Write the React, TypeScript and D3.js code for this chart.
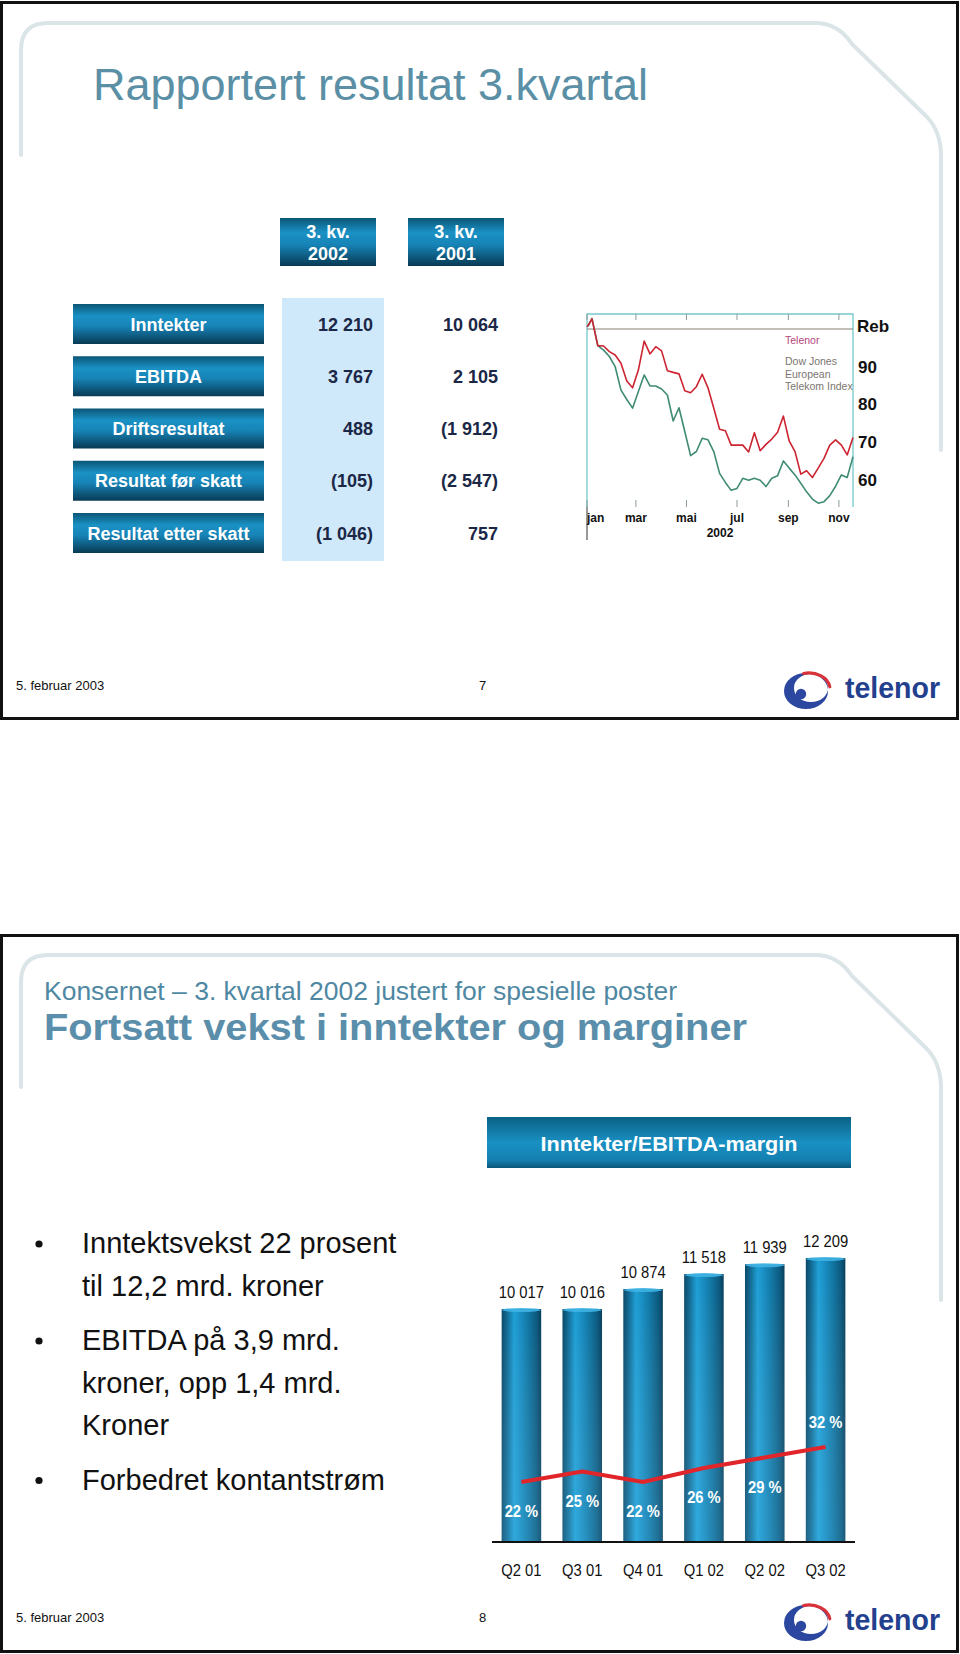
import React from "react";
import * as d3 from "d3";

// ---------- Slide 1 data ----------
const rowLabels = ["Inntekter", "EBITDA", "Driftsresultat", "Resultat før skatt", "Resultat etter skatt"];
const colHeaders = [["3. kv.", "2002"], ["3. kv.", "2001"]];
const q3y2002 = [12210, 3767, 488, -105, -1046];
const q3y2001 = [10064, 2105, -1912, -2547, 757];

const monthNames = ["jan", "feb", "mar", "apr", "mai", "jun", "jul", "aug", "sep", "okt", "nov", "des"];
const yTicks = [90, 80, 70, 60];
const telenorIdx = [100.6, 101.2,
  102.7, 95.6, 95.5, 94.0, 93.1, 90.9, 86.2, 84.4, 89.1, 96.8, 93.4, 95.3, 94.2, 88.9, 88.5, 88.1, 83.6, 83.1, 84.7, 88.0,
  84.4, 79.0, 73.4, 73.0, 69.2, 69.2, 69.2, 67.4, 72.5, 67.7, 69.4, 70.8, 72.6, 76.9, 70.3, 67.5, 61.5, 62.4, 60.6, 63.1,
  65.7, 69.2, 70.6, 69.2, 66.6, 71.2];
const djIdx = [100.6, 101.0,
  102.8, 95.6, 94.4, 92.7, 90.0, 83.8, 81.3, 79.0, 83.4, 87.8, 84.9, 84.9, 84.1, 82.5, 75.6, 79.1, 72.8, 66.4, 67.5, 71.0,
  70.6, 67.5, 61.7, 59.3, 57.2, 57.7, 60.4, 59.9, 60.4, 59.9, 58.2, 60.4, 61.1, 65.0, 63.1, 61.3, 59.1, 56.8, 54.9, 53.8,
  54.2, 55.8, 58.3, 61.3, 60.6, 66.1];
const seriesDates = [new Date(2002, 0, 1), new Date(2002, 0, 3),
  ...d3.range(46).map((k) => d3.timeDay.offset(new Date(2002, 0, 7), 7 * k))];
const legendTelenor = "Telenor";
const legendDJ = ["Dow Jones", "European", "Telekom Index"];

// ---------- Slide 2 data ----------
const quarters = ["Q2 01", "Q3 01", "Q4 01", "Q1 02", "Q2 02", "Q3 02"];
const revenue = [10017, 10016, 10874, 11518, 11939, 12209];
const ebitdaMargin = [22, 25, 22, 26, 29, 32];
const bullets = [
  ["Inntektsvekst 22 prosent", "til 12,2 mrd. kroner"],
  ["EBITDA på 3,9 mrd.", "kroner, opp 1,4 mrd.", "Kroner"],
  ["Forbedret kontantstrøm"],
];

const FONT = "'Liberation Sans', Arial, Helvetica, sans-serif";
const no = d3.formatLocale({ decimal: ",", thousands: " ", grouping: [3], currency: ["", " kr"] });
const fmtNum = no.format(",d");
const fmtParen = (v: number) => (v < 0 ? `(${fmtNum(-v)})` : fmtNum(v));

function Deco({ dy, bottom }: { dy: number; bottom: number }) {
  const d = `M21,${155 + dy} V${50 + dy} Q21,${23 + dy} 48,${23 + dy} H815 Q838,${23 + dy} 852,${44 + dy} L927,${117 + dy} Q941,${132 + dy} 941,${156 + dy} V${bottom}`;
  return <path d={d} fill="none" stroke="#dbe4e7" strokeWidth={4} strokeLinecap="round" />;
}

function Logo({ dy }: { dy: number }) {
  const cx = 806, cy = 691 + dy;
  const crescent =
    `M${cx - 22},${cy} a22,18 0 1,0 44,0 a22,18 0 1,0 -44,0 Z ` +
    `M${cx - 12},${cy - 3} a17,14 0 1,0 34,0 a17,14 0 1,0 -34,0 Z`;
  const r1x = 21, r1y = 16, rc = { x: cx + 3, y: cy - 2 };
  const a0 = (-105 * Math.PI) / 180, a1 = (-8 * Math.PI) / 180;
  const arc = `M${rc.x + r1x * Math.cos(a0)},${rc.y + r1y * Math.sin(a0)} A${r1x},${r1y} 0 0,1 ${rc.x + r1x * Math.cos(a1)},${rc.y + r1y * Math.sin(a1)}`;
  return (
    <g>
      <path d={crescent} fill="#2b47a0" fillRule="evenodd" />
      <path d={arc} fill="none" stroke="#d8333a" strokeWidth={3.2} strokeLinecap="round" />
      <circle cx={cx - 5} cy={cy + 3} r={5.2} fill="#2b47a0" />
      <text x={845} y={698 + dy} fontFamily={FONT} fontWeight="bold" fontSize={29} fill="#23408e" textLength={95} lengthAdjust="spacingAndGlyphs">telenor</text>
    </g>
  );
}

function Footer({ dy, page }: { dy: number; page: string }) {
  return (
    <g fontFamily={FONT} fontSize={13} fill="#111">
      <text x={16} y={690 + dy}>5. februar 2003</text>
      <text x={479} y={690 + dy}>{page}</text>
      <Logo dy={dy} />
    </g>
  );
}

export default function App() {
  // Table layout
  const rowY = d3.scalePoint<string>().domain(rowLabels).range([324, 533]);
  const colX = [376, 504];

  // Line chart scales
  const x = d3.scaleTime().domain([new Date(2002, 0, 1), new Date(2002, 10, 18)]).range([587, 853]);
  const y = d3.scaleLinear().domain([60, 100]).range([479.8, 329]);
  const line = d3.line<number>().x((_, i) => x(seriesDates[i])).y((v) => y(v));
  const monthTicks = x.ticks(d3.timeMonth.every(2) as d3.TimeInterval);

  // Bar chart scales
  const bx = d3.scaleBand<string>().domain(quarters).range([491, 856]).paddingInner(0.35).paddingOuter(0.175);
  const by = d3.scaleLinear().domain([0, 12209]).range([1542, 1258]);
  const my = d3.scaleLinear().domain([22, 32]).range([1482, 1447]);
  const marginLine = d3.line<number>().x((_, i) => (bx(quarters[i]) as number) + bx.bandwidth() / 2).y((m) => my(m));

  // bullets layout
  let cursor = 1253;
  const bulletLines: { text: string; y: number; first: boolean }[] = [];
  bullets.forEach((b, bi) => {
    if (bi > 0) cursor += 54.5;
    b.forEach((t, li) => {
      if (li > 0) cursor += 42.5;
      bulletLines.push({ text: t, y: cursor, first: li === 0 });
    });
  });

  return (
    <svg width={960} height={1654} style={{ position: "absolute", left: 0, top: 0, background: "#fff" }} fontFamily={FONT}>
      <defs>
        <linearGradient id="boxGrad" x1="0" y1="0" x2="0" y2="1">
          <stop offset="0" stopColor="#0b5676" />
          <stop offset="0.3" stopColor="#1a91c4" />
          <stop offset="0.55" stopColor="#1784b7" />
          <stop offset="1" stopColor="#083a54" />
        </linearGradient>
        <linearGradient id="bannerGrad" x1="0" y1="0" x2="0" y2="1">
          <stop offset="0" stopColor="#0c6185" />
          <stop offset="0.5" stopColor="#1990c3" />
          <stop offset="0.85" stopColor="#147fb0" />
          <stop offset="1" stopColor="#0b5777" />
        </linearGradient>
        <linearGradient id="barGrad" x1="0" y1="0" x2="1" y2="0">
          <stop offset="0" stopColor="#0a4868" />
          <stop offset="0.14" stopColor="#116b95" />
          <stop offset="0.32" stopColor="#1e9fd5" />
          <stop offset="0.45" stopColor="#1990c6" />
          <stop offset="0.65" stopColor="#1179a7" />
          <stop offset="0.88" stopColor="#0b5a80" />
          <stop offset="1" stopColor="#083e5b" />
        </linearGradient>
        <linearGradient id="barShade" x1="0" y1="0" x2="0" y2="1">
          <stop offset="0" stopColor="#ffffff" stopOpacity="0" />
          <stop offset="1" stopColor="#7fd8ff" stopOpacity="0.18" />
        </linearGradient>
      </defs>

      {/* ================= Slide 1 ================= */}
      <rect x={1.5} y={2.5} width={956} height={716} fill="#fff" stroke="#111" strokeWidth={3} />
      <Deco dy={0} bottom={450} />
      <text x={93} y={100} fontSize={45} fill="#5a8fa5" textLength={555} lengthAdjust="spacingAndGlyphs">Rapportert resultat 3.kvartal</text>

      {/* light column */}
      <rect x={282} y={298} width={102} height={263} fill="#cfe8fa" />

      {/* column headers */}
      {colHeaders.map((h, i) => (
        <g key={i}>
          <rect x={colX[i] - 96} y={218} width={96} height={48} fill="url(#boxGrad)" />
          <text x={colX[i] - 48} y={238} textAnchor="middle" fontSize={18} fontWeight="bold" fill="#fff">{h[0]}</text>
          <text x={colX[i] - 48} y={260} textAnchor="middle" fontSize={18} fontWeight="bold" fill="#fff">{h[1]}</text>
        </g>
      ))}

      {/* rows */}
      {rowLabels.map((r, i) => {
        const cy = rowY(r) as number;
        return (
          <g key={r}>
            <rect x={73} y={cy - 20} width={191} height={40} fill="url(#boxGrad)" />
            <text x={168.5} y={cy + 6.5} textAnchor="middle" fontSize={18} fontWeight="bold" fill="#fff">{r}</text>
            <text x={373} y={cy + 6.5} textAnchor="end" fontSize={18} fontWeight="bold" fill="#1b2746">{fmtParen(q3y2002[i])}</text>
            <text x={498} y={cy + 6.5} textAnchor="end" fontSize={18} fontWeight="bold" fill="#1b2746">{fmtParen(q3y2001[i])}</text>
          </g>
        );
      })}

      {/* line chart */}
      <g>
        <path d={`M587,507 V314 H853 V507`} fill="none" stroke="#74c9cc" strokeWidth={1.3} />
        <line x1={587} x2={587} y1={507} y2={540} stroke="#555" strokeWidth={1.2} />
        {monthTicks.map((t, i) => (
          <g key={i}>
            <line x1={x(t)} x2={x(t)} y1={314} y2={320} stroke="#8a9a9c" strokeWidth={1} />
            <line x1={x(t)} x2={x(t)} y1={500} y2={507} stroke="#8a9a9c" strokeWidth={1} />
            <text x={x(t)} y={522} textAnchor={i === 0 ? "start" : "middle"} fontSize={12} fontWeight="bold" fill="#111">
              {monthNames[t.getMonth()]}
            </text>
          </g>
        ))}
        <text x={720} y={537} textAnchor="middle" fontSize={12} fontWeight="bold" fill="#111">2002</text>
        <line x1={587} x2={853} y1={y(100)} y2={y(100)} stroke="#8c8075" strokeWidth={1.2} />
        <path d={line(djIdx) || ""} fill="none" stroke="#3f8b73" strokeWidth={1.6} strokeLinejoin="round" />
        <path d={line(telenorIdx) || ""} fill="none" stroke="#cc2431" strokeWidth={1.6} strokeLinejoin="round" />
        <text x={857} y={y(100) + 3} fontSize={17} fontWeight="bold" fill="#111">Reb</text>
        {yTicks.map((v) => (
          <text key={v} x={858} y={y(v) + 6} fontSize={17} fontWeight="bold" fill="#111">{v}</text>
        ))}
        <text x={785} y={344} fontSize={10.5} fill="#b5467c">{legendTelenor}</text>
        {legendDJ.map((t, i) => (
          <text key={t} x={785} y={365 + i * 12.5} fontSize={10.5} fill="#7b7670">{t}</text>
        ))}
      </g>

      <Footer dy={0} page="7" />

      {/* ================= Slide 2 ================= */}
      <rect x={1.5} y={935.5} width={956} height={716} fill="#fff" stroke="#111" strokeWidth={3} />
      <Deco dy={932} bottom={1300} />
      <text x={44} y={1000} fontSize={26} fill="#4f88a2" textLength={633} lengthAdjust="spacingAndGlyphs">Konsernet – 3. kvartal 2002 justert for spesielle poster</text>
      <text x={44} y={1040} fontSize={36} fontWeight="bold" fill="#5a8eaa" textLength={703} lengthAdjust="spacingAndGlyphs">Fortsatt vekst i inntekter og marginer</text>

      <rect x={487} y={1117} width={364} height={51} fill="url(#bannerGrad)" />
      <text x={669} y={1151} textAnchor="middle" fontSize={20} fontWeight="bold" fill="#fff" textLength={257} lengthAdjust="spacingAndGlyphs">Inntekter/EBITDA-margin</text>

      {bulletLines.map((l, i) => (
        <g key={i}>
          {l.first && <circle cx={39} cy={l.y - 9} r={3.6} fill="#111" />}
          <text x={82} y={l.y} fontSize={29} fill="#111">{l.text}</text>
        </g>
      ))}

      {/* bars */}
      {quarters.map((q, i) => {
        const x0 = bx(q) as number;
        const w = bx.bandwidth();
        const top = by(revenue[i]);
        return (
          <g key={q}>
            <rect x={x0} y={top} width={w} height={by(0) - top} fill="url(#barGrad)" />
            <rect x={x0} y={top} width={w} height={by(0) - top} fill="url(#barShade)" />
            <ellipse cx={x0 + w / 2} cy={top + 1} rx={w / 2 - 0.5} ry={2} fill="#3fb3e3" opacity={0.9} />
            <text transform={`translate(${x0 + w / 2},${top - 11}) scale(0.87,1)`} textAnchor="middle" fontSize={17} fill="#111">
              {fmtNum(revenue[i])}
            </text>
            <text transform={`translate(${x0 + w / 2},1576) scale(0.87,1)`} textAnchor="middle" fontSize={17} fill="#111">{q}</text>
          </g>
        );
      })}
      <line x1={492} x2={855} y1={1542} y2={1542} stroke="#111" strokeWidth={2} />
      <path d={marginLine(ebitdaMargin) || ""} fill="none" stroke="#e0252b" strokeWidth={4} strokeLinejoin="round" />
      {quarters.map((q, i) => {
        const cx = (bx(q) as number) + bx.bandwidth() / 2;
        const last = i === quarters.length - 1;
        const ly = my(ebitdaMargin[i]) + (last ? -19 : 35);
        return (
          <text key={q} transform={`translate(${cx},${ly}) scale(0.92,1)`} textAnchor="middle" fontSize={16} fontWeight="bold" fill="#fff">
            {ebitdaMargin[i]} %
          </text>
        );
      })}

      <Footer dy={932} page="8" />
    </svg>
  );
}
